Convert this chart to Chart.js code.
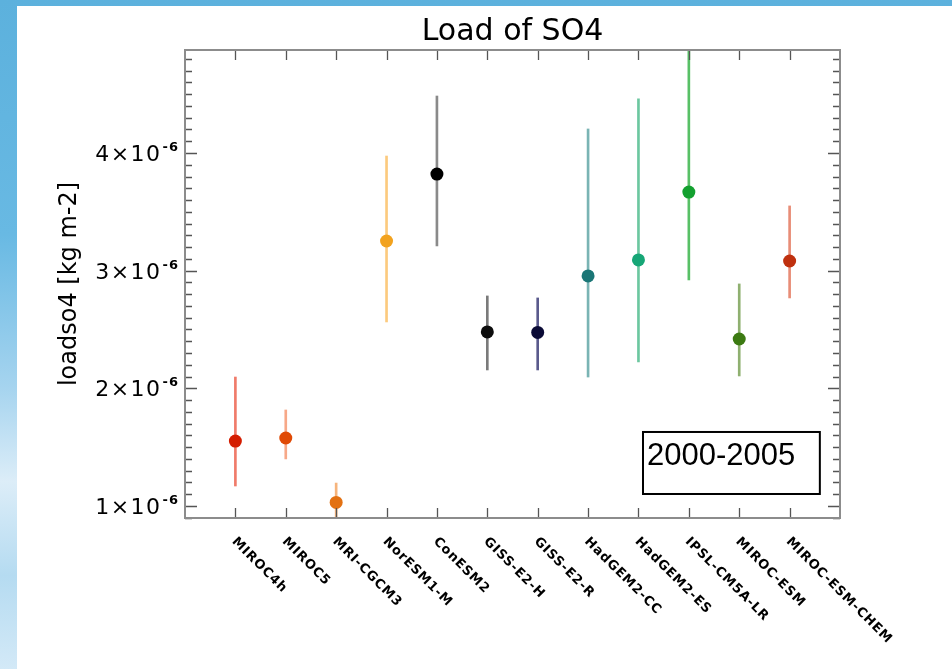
<!DOCTYPE html>
<html><head><meta charset="utf-8">
<script src="https://cdn.jsdelivr.net/npm/chart.js@4"></script>
<style>
html,body{margin:0;padding:0;width:952px;height:669px;overflow:hidden;}
body{background:linear-gradient(180deg,#5cb1dd 0%,#68b9e3 35%,#a6d4ef 58%,#dcedf8 72%,#b5dbf1 86%,#d3e9f7 100%);}
#panel{position:absolute;left:17px;top:6px;width:935px;height:663px;background:#fff;}
canvas{display:block;}
</style></head><body>
<div id="panel"><canvas id="c" width="935" height="663"></canvas></div>
<script>
const models = ['MIROC4h','MIROC5','MRI-CGCM3','NorESM1-M','ConESM2','GISS-E2-H','GISS-E2-R','HadGEM2-CC','HadGEM2-ES','IPSL-CM5A-LR','MIROC-ESM','MIROC-ESM-CHEM'];
const meanLoad = [1.552e-6,1.578e-6,1.030e-6,3.252e-6,3.821e-6,2.479e-6,2.475e-6,2.955e-6,3.091e-6,3.668e-6,2.419e-6,3.082e-6];
const lowLoad  = [1.170e-6,1.400e-6,0.850e-6,2.564e-6,3.210e-6,2.156e-6,2.156e-6,2.096e-6,2.224e-6,2.921e-6,2.105e-6,2.768e-6];
const highLoad = [2.096e-6,1.816e-6,1.195e-6,3.974e-6,4.484e-6,2.785e-6,2.768e-6,4.204e-6,4.459e-6,4.950e-6,2.887e-6,3.550e-6];
const pointColors = ['#d41c00','#e04a05','#e37112','#f2a21e','#000000','#0d0d0d','#0b0b36','#1b7676','#16a676','#13a02f','#3c7a12','#bf300e'];
const barColors   = ['#f07b6a','#f7a888','#f6b47c','#fcca7e','#8a8a8a','#7a7a7a','#5a5a8c','#7ab4b4','#6cc7a0','#58c066','#8fb070','#e88d77'];
const yTickValues = [1e-6,2e-6,3e-6,4e-6];
const yTickLabels = ['1×10⁻⁶','2×10⁻⁶','3×10⁻⁶','4×10⁻⁶'];
const chartTitle = 'Load of SO4';
const yTitle = 'loadso4 [kg m-2]';
const periodLabel = '2000-2005';

const supMap = {'⁻':'-','⁰':'0','¹':'1','²':'2','³':'3','⁴':'4','⁵':'5','⁶':'6','⁷':'7','⁸':'8','⁹':'9'};

const decor = {
  id:'decor',
  afterDatasetsDraw(chart){
    const {ctx, chartArea:a, scales:{x,y}} = chart;
    ctx.save();
    ctx.strokeStyle='#555'; ctx.lineWidth=1.3;
    ctx.beginPath();
    models.forEach((m,i)=>{
      const px=Math.round(x.getPixelForValue(i+1))+0.5;
      ctx.moveTo(px,a.bottom); ctx.lineTo(px,a.bottom-10);
      ctx.moveTo(px,a.top); ctx.lineTo(px,a.top+10);
    });
    y.ticks.forEach(t=>{
      const major = yTickValues.some(v=>Math.abs(v-t.value)<1e-8);
      const len = major?12:7;
      const py=Math.round(y.getPixelForValue(t.value))+0.5;
      ctx.moveTo(a.left,py); ctx.lineTo(a.left+len,py);
      ctx.moveTo(a.right,py); ctx.lineTo(a.right-len,py);
    });
    ctx.stroke();
    ctx.strokeStyle='#8c8c8c'; ctx.lineWidth=2;
    ctx.strokeRect(a.left,a.top,a.right-a.left,a.bottom-a.top);
    ctx.restore();
  },
  afterDraw(chart){
    const {ctx, chartArea:a, scales:{x,y}} = chart;
    ctx.save();
    ctx.fillStyle='#000';
    ctx.font='30px "DejaVu Sans"'; ctx.textAlign='center'; ctx.textBaseline='alphabetic';
    ctx.fillText(chartTitle,(a.left+a.right)/2,a.top-10);
    yTickValues.forEach((v,i)=>{
      const lab=yTickLabels[i];
      const m=lab.match(/^(.*?)([⁻⁰¹²³⁴⁵⁶⁷⁸⁹]+)$/);
      const base=m?m[1]:lab, sup=m?[...m[2]].map(c=>supMap[c]).join(''):'';
      const py=y.getPixelForValue(v);
      const right=a.left-6;
      ctx.font='bold 13px "DejaVu Sans"'; ctx.textAlign='right';
      try{ctx.letterSpacing='1px';}catch(e){}
      const sw=ctx.measureText(sup).width;
      ctx.fillText(sup,right,py-2);
      ctx.font='22px "DejaVu Sans"';
      try{ctx.letterSpacing='1.5px';}catch(e){}
      ctx.fillText(base,right-sw-1,py+8);
    });
    ctx.font='bold 13px "DejaVu Sans"';
    try{ctx.letterSpacing='0.8px';}catch(e){}
    ctx.textAlign='left'; ctx.textBaseline='top';
    models.forEach((m,i)=>{
      const px=x.getPixelForValue(i+1);
      ctx.save(); ctx.translate(px+3,a.bottom+17); ctx.rotate(Math.PI/4);
      ctx.fillText(m,0,0); ctx.restore();
    });
    try{ctx.letterSpacing='0px';}catch(e){}
    const bx1=x.getPixelForValue(9.09), bx2=x.getPixelForValue(12.60);
    const by1=y.getPixelForValue(1.629e-6), by2=y.getPixelForValue(1.102e-6);
    ctx.strokeStyle='#000'; ctx.lineWidth=2;
    ctx.strokeRect(bx1,by1,bx2-bx1,by2-by1);
    ctx.font='31px "Liberation Sans"'; ctx.textAlign='left'; ctx.textBaseline='alphabetic';
    ctx.fillText(periodLabel,bx1+4,by1+33);
    ctx.restore();
  }
};

new Chart(document.getElementById('c'),{
  type:'bar',
  data:{
    datasets:[
      {type:'scatter',label:'mean',data:models.map((m,i)=>({x:i+1,y:meanLoad[i]})),
       backgroundColor:pointColors,borderWidth:0,pointRadius:6.5,pointHoverRadius:6.5,clip:0},
      {type:'bar',label:'range',data:models.map((m,i)=>({x:i+1,y:[lowLoad[i],highLoad[i]]})),
       backgroundColor:barColors,borderWidth:0,barThickness:2,clip:0}
    ]
  },
  options:{
    responsive:false,animation:false,
    layout:{padding:{left:34,top:44,right:112,bottom:0}},
    plugins:{legend:{display:false},tooltip:{enabled:false},title:{display:false}},
    scales:{
      x:{type:'linear',min:0,max:13,offset:false,
         grid:{display:false},border:{display:false},ticks:{display:false},
         afterFit(s){s.height=151;}},
      y:{type:'linear',min:0.898e-6,max:4.875e-6,
         grid:{display:false},border:{display:false},
         ticks:{display:false,stepSize:1e-7,includeBounds:false},
         title:{display:true,text:yTitle,color:'#000',font:{family:'DejaVu Sans',size:24},padding:{top:4,bottom:0}},
         afterFit(s){s.width=134;}}
    }
  },
  plugins:[decor]
});
</script>
</body></html>
